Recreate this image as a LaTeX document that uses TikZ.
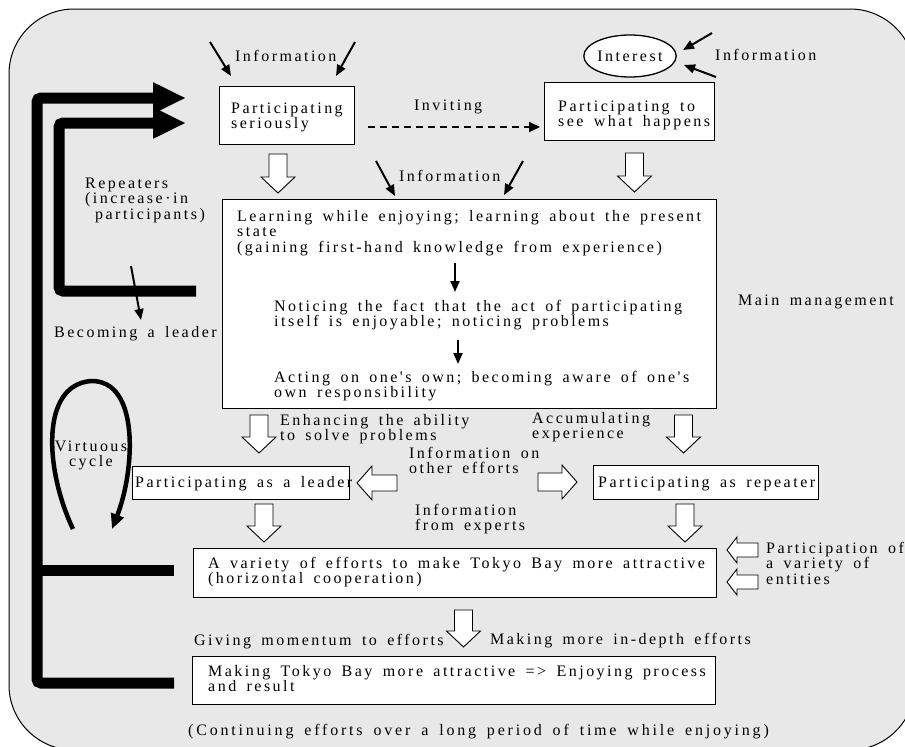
\documentclass[tikz,border=0pt]{standalone}
\usepackage{fontspec}
\setmainfont{Liberation Serif}[LetterSpace=15.5,WordSpace=1.6,Ligatures=TeXOff]
\usetikzlibrary{arrows.meta,shapes.geometric}
\definecolor{bggray}{RGB}{232,232,232}
\newcommand\bdown[3]{% centre x, top, tip
  \draw[hollow] (#1-9,#2) -- (#1+9,#2) -- (#1+9,#3-16) -- (#1+17,#3-16) -- (#1,#3)
    -- (#1-17,#3-16) -- (#1-9,#3-16) -- cycle;}
\newcommand\bhoriz[6]{% tip x, y, head base x, tail x, head half, shaft half
  \draw[hollow] (#1,#2) -- (#3,#2-#5) -- (#3,#2-#6) -- (#4,#2-#6) -- (#4,#2+#6)
    -- (#3,#2+#6) -- (#3,#2+#5) -- cycle;}
\begin{document}
\begin{tikzpicture}[x=1pt,y=-1pt,
  txt/.style={inner sep=0pt, anchor=base west, align=left, font=\fontsize{16}{15.5}\selectfont},
  boxnode/.style={draw=black, line width=1.3pt, fill=white, anchor=north west, inner sep=0pt},
  hollow/.style={draw=black, line width=0.9pt, fill=white, line join=miter},
  infoarr/.style={line width=2pt, -{Triangle[length=11pt,width=9pt]}},
  bigline/.style={line width=11pt, rounded corners=4pt},
  bighead/.style={-{Triangle[length=33pt,width=29pt]}},
  ]
\useasboundingbox (0,0) rectangle (905,747);
\begin{scope}
  \clip (0,0) rectangle (905,747);
  \draw[fill=bggray, line width=1pt, rounded corners=65pt] (9,9) rectangle (915,750);
\end{scope}

% boxes
\node[boxnode, minimum width=135pt, minimum height=58pt] (ps) at (219,86) {};
\node[boxnode, minimum width=170pt, minimum height=58pt] (pw) at (544,82) {};
\node[draw=black, line width=1.3pt, fill=white, ellipse, minimum width=92pt, minimum height=42pt,
      inner sep=0pt, font=\fontsize{16}{15.5}\selectfont] (interest) at (630,56) {Interest};
\node[boxnode, minimum width=494pt, minimum height=209pt] (learn) at (222,199) {};
\node[boxnode, minimum width=217pt, minimum height=33pt] (leader) at (132,466) {};
\node[boxnode, minimum width=225pt, minimum height=34pt] (repeater) at (593,465) {};
\node[boxnode, minimum width=523pt, minimum height=49pt] (variety) at (193,548) {};
\node[boxnode, minimum width=523pt, minimum height=48pt] (making) at (192,656) {};

% texts (multi-line nodes are anchored at the baseline of their last line)
\node[txt] (tinfo1) at (235,61) {Information};
\node[txt] (tinfo2) at (715,60) {Information};
\node[txt] (tps) at (231,128.5) {Participating\\seriously};
\node[txt] (tpw) at (558,126.5) {Participating to\\see what happens};
\node[txt] (tinv) at (414,110) {Inviting};
\node[txt] (tinfo3) at (399,181) {Information};
\node[txt] (trep) at (85,219) {Repeaters\\(increase·in\\\hspace*{10pt}participants)};
\node[txt] (tlearn) at (237,252) {Learning while enjoying; learning about the present\\state\\(gaining first-hand knowledge from experience)};
\node[txt] (tnotice) at (274,326.5) {Noticing the fact that the act of participating\\itself is enjoyable; noticing problems};
\node[txt] (tact) at (274,397.5) {Acting on one's own; becoming aware of one's\\own responsibility};
\node[txt] (tmain) at (738,305) {Main management};
\node[txt] (tbecome) at (54,337) {Becoming a leader};
\node[txt, anchor=base, align=center] (tvirt) at (91,466.5) {Virtuous\\cycle};
\node[txt] (tenh) at (280,440.5) {Enhancing the ability\\to solve problems};
\node[txt] (tacc) at (532,438.5) {Accumulating\\experience};
\node[txt] (tother) at (409,473.5) {Information on\\other efforts};
\node[txt] (texp) at (415,530.5) {Information\\from experts};
\node[txt] (tlead) at (135,487) {Participating as a leader};
\node[txt] (trepe) at (598,487) {Participating as repeater};
\node[txt] (tvar) at (208,583.5) {A variety of efforts to make Tokyo Bay more attractive\\(horizontal cooperation)};
\node[txt] (tpart) at (766,584) {Participation of\\a variety of\\entities};
\node[txt] (tgive) at (194,645) {Giving momentum to efforts};
\node[txt] (tdepth) at (490,644) {Making more in-depth efforts};
\node[txt] (tmake) at (208,691.5) {Making Tokyo Bay more attractive => Enjoying process\\and result};
\node[txt] (tcont) at (188,735) {\addfontfeature{LetterSpace=17.5}(Continuing efforts over a long period of time while enjoying)};

% information arrows
\coordinate (a1s) at (210,42);  \coordinate (a1e) at (231,76);
\coordinate (a2s) at (355,42);  \coordinate (a2e) at (336,76);
\coordinate (a3s) at (712,33);  \coordinate (a3e) at (683,50);
\coordinate (a4s) at (716,77);  \coordinate (a4e) at (684,65);
\coordinate (a5s) at (376,161); \coordinate (a5e) at (395,196);
\coordinate (a6s) at (523,161); \coordinate (a6e) at (504,195);
\coordinate (a7s) at (455,263); \coordinate (a7e) at (455,292);
\coordinate (a8s) at (458,340); \coordinate (a8e) at (458,364);
\coordinate (a9s) at (131,266); \coordinate (a9e) at (141,320);
\foreach \n in {1,...,9} {\draw[infoarr] (a\n s) -- (a\n e);}

% inviting (dashed)
\coordinate (invs) at (368,127); \coordinate (inve) at (540,127);
\draw[line width=2pt, dash pattern=on 7pt off 5pt, -{Triangle[length=11pt,width=10pt]}] (invs) -- (inve);

% thick feedback lines
\coordinate (tA) at (186,98);  \coordinate (tB) at (186,123);
\coordinate (eA) at (174,683); \coordinate (eM) at (174,570); \coordinate (eB) at (196,291);
\coordinate (jM) at (37,570);
\draw[bigline, bighead] (eA) -- (37,683) -- (37,98) -- (tA);
\draw[bigline] (jM) -- (eM);
\draw[bigline, bighead] (eB) -- (59,291) -- (59,123) -- (tB);

% virtuous cycle
\coordinate (vs) at (73,529); \coordinate (ve) at (112,529);
\draw[line width=4.5pt, -{Triangle[length=15pt,width=13pt]}]
  (vs) .. controls (45,470) and (40,385) .. (91,381) .. controls (140,380) and (135,470) .. (ve);

% hollow block arrows
\bdown{278}{154}{193}
\bdown{634.5}{153}{192}
\bdown{259}{415}{453}
\bdown{683.5}{415}{453}
\bdown{264}{504}{542}
\bdown{685}{504}{542}
\bdown{463.5}{610}{647}
\bhoriz{357}{483}{372}{397}{17}{8}
\bhoriz{577}{482}{562}{538}{17}{9}
\bhoriz{727}{550}{737}{758}{13}{7}
\bhoriz{727}{582}{737}{758}{13}{7}
\end{tikzpicture}
\end{document}
